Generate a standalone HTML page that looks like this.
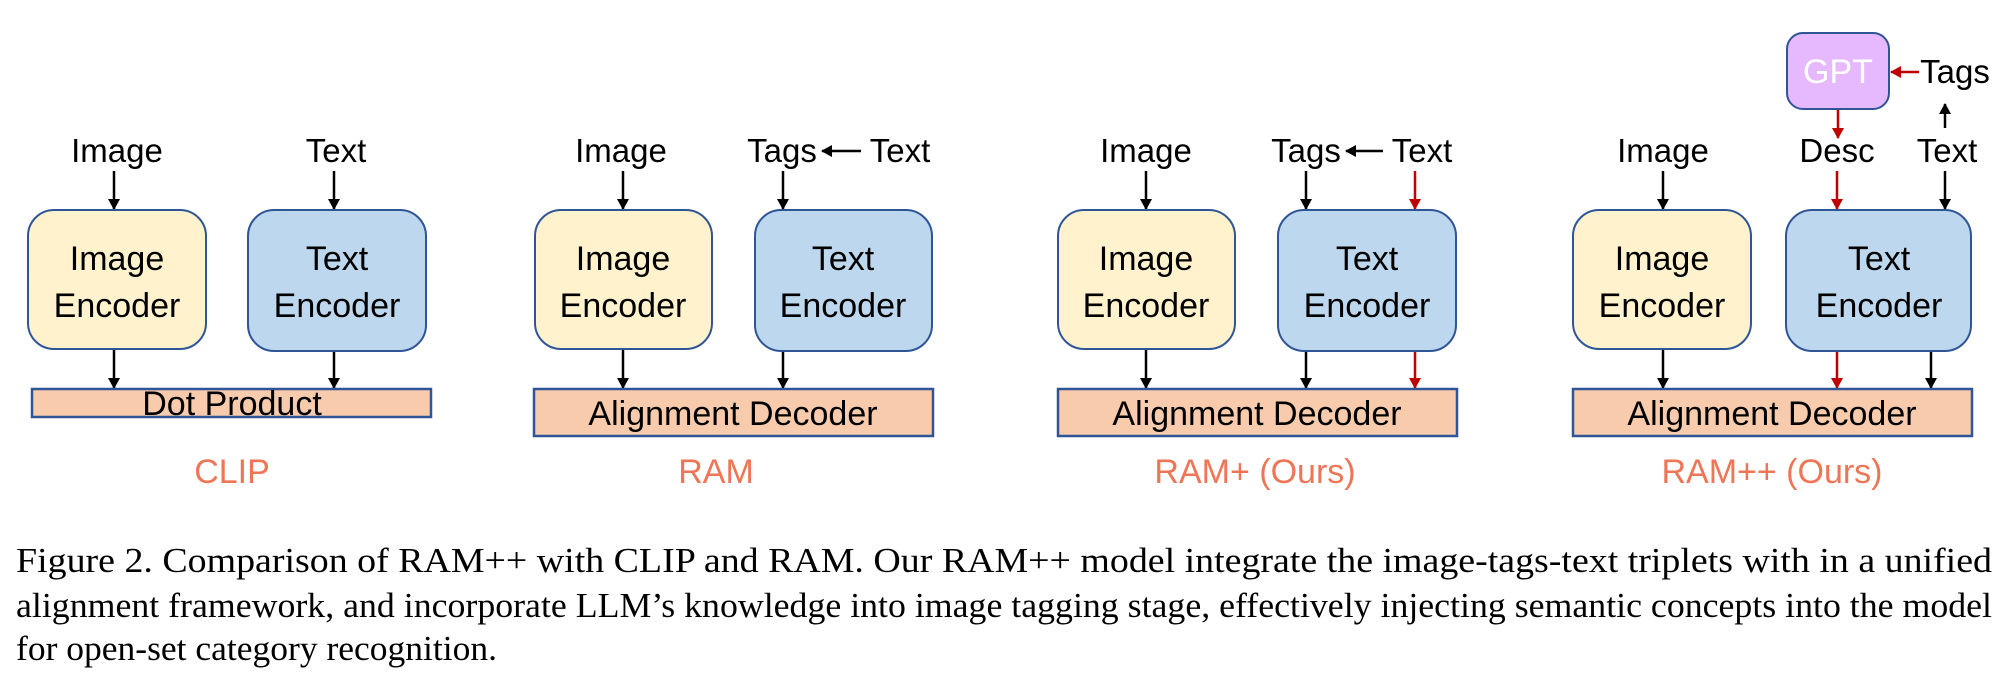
<!DOCTYPE html>
<html><head><meta charset="utf-8"><style>
html,body{margin:0;padding:0;background:#fff;}
svg{display:block;}
.l{font-family:"Liberation Sans",sans-serif;font-size:33px;fill:#000;text-anchor:middle;}
.b{font-family:"Liberation Sans",sans-serif;font-size:34px;fill:#000;text-anchor:middle;}
.o{font-family:"Liberation Sans",sans-serif;font-size:34px;fill:#EE7656;text-anchor:middle;}
.c{font-family:"Liberation Serif",serif;font-size:35px;fill:#000;}
.y{fill:#FFF2CC;stroke:#2F5597;stroke-width:2;}
.u{fill:#BDD7EE;stroke:#2F5597;stroke-width:2;}
.d{fill:#F8CBAD;stroke:#2F5597;stroke-width:2.5;}
.k{stroke:#000;stroke-width:2.5;}
.r{stroke:#C00000;stroke-width:2.5;}
</style></head><body>
<svg width="2013" height="696" viewBox="0 0 2013 696" xmlns="http://www.w3.org/2000/svg">
<defs>
<marker id="ak" markerWidth="12" markerHeight="12" refX="10" refY="6" orient="auto" markerUnits="userSpaceOnUse"><path d="M0,0 L11,6 L0,12 z" fill="#000"/></marker>
<marker id="ar" markerWidth="12" markerHeight="12" refX="10" refY="6" orient="auto" markerUnits="userSpaceOnUse"><path d="M0,0 L11,6 L0,12 z" fill="#C00000"/></marker>
</defs>

<!-- CLIP -->
<text class="l" x="117" y="162">Image</text>
<text class="l" x="336" y="162">Text</text>
<line class="k" x1="114" y1="171" x2="114" y2="209" marker-end="url(#ak)"/>
<line class="k" x1="334" y1="171" x2="334" y2="209" marker-end="url(#ak)"/>
<rect class="y" x="28" y="210" width="178" height="139" rx="26"/>
<rect class="u" x="248" y="210" width="178" height="141" rx="26"/>
<text class="b" x="117" y="270">Image</text><text class="b" x="117" y="317">Encoder</text>
<text class="b" x="337" y="270">Text</text><text class="b" x="337" y="317">Encoder</text>
<line class="k" x1="114" y1="350" x2="114" y2="388" marker-end="url(#ak)"/>
<line class="k" x1="334" y1="352" x2="334" y2="388" marker-end="url(#ak)"/>
<rect class="d" x="32" y="389" width="399" height="28"/>
<text class="b" x="232" y="415">Dot Product</text>
<text class="o" x="232" y="483">CLIP</text>

<!-- RAM -->
<text class="l" x="621" y="162">Image</text>
<text class="l" x="782" y="162">Tags</text>
<text class="l" x="900" y="162">Text</text>
<line class="k" x1="861" y1="151" x2="822" y2="151" marker-end="url(#ak)"/>
<line class="k" x1="623" y1="171" x2="623" y2="209" marker-end="url(#ak)"/>
<line class="k" x1="783" y1="171" x2="783" y2="209" marker-end="url(#ak)"/>
<rect class="y" x="535" y="210" width="177" height="139" rx="26"/>
<rect class="u" x="755" y="210" width="177" height="141" rx="26"/>
<text class="b" x="623" y="270">Image</text><text class="b" x="623" y="317">Encoder</text>
<text class="b" x="843" y="270">Text</text><text class="b" x="843" y="317">Encoder</text>
<line class="k" x1="623" y1="350" x2="623" y2="388" marker-end="url(#ak)"/>
<line class="k" x1="783" y1="352" x2="783" y2="388" marker-end="url(#ak)"/>
<rect class="d" x="534" y="389" width="399" height="47"/>
<text class="b" x="733" y="425">Alignment Decoder</text>
<text class="o" x="716" y="483">RAM</text>

<!-- RAM+ -->
<text class="l" x="1146" y="162">Image</text>
<text class="l" x="1306" y="162">Tags</text>
<text class="l" x="1422" y="162">Text</text>
<line class="k" x1="1383" y1="151" x2="1346" y2="151" marker-end="url(#ak)"/>
<line class="k" x1="1146" y1="171" x2="1146" y2="209" marker-end="url(#ak)"/>
<line class="k" x1="1306" y1="171" x2="1306" y2="209" marker-end="url(#ak)"/>
<line class="r" x1="1415" y1="171" x2="1415" y2="209" marker-end="url(#ar)"/>
<rect class="y" x="1058" y="210" width="177" height="139" rx="26"/>
<rect class="u" x="1278" y="210" width="178" height="141" rx="26"/>
<text class="b" x="1146" y="270">Image</text><text class="b" x="1146" y="317">Encoder</text>
<text class="b" x="1367" y="270">Text</text><text class="b" x="1367" y="317">Encoder</text>
<line class="k" x1="1146" y1="350" x2="1146" y2="388" marker-end="url(#ak)"/>
<line class="k" x1="1306" y1="352" x2="1306" y2="388" marker-end="url(#ak)"/>
<line class="r" x1="1415" y1="352" x2="1415" y2="388" marker-end="url(#ar)"/>
<rect class="d" x="1058" y="389" width="399" height="47"/>
<text class="b" x="1257" y="425">Alignment Decoder</text>
<text class="o" x="1255" y="483">RAM+ (Ours)</text>

<!-- RAM++ -->
<rect x="1787" y="33" width="102" height="76" rx="16" fill="#E6B9FF" stroke="#2F5597" stroke-width="2"/>
<text class="b" x="1838" y="83" style="fill:#fff">GPT</text>
<text class="l" x="1955" y="83">Tags</text>
<line class="r" x1="1919" y1="72" x2="1891" y2="72" marker-end="url(#ar)"/>
<line class="r" x1="1838" y1="110" x2="1838" y2="138" marker-end="url(#ar)"/>
<line class="k" x1="1945" y1="128" x2="1945" y2="104" marker-end="url(#ak)"/>
<text class="l" x="1837" y="162">Desc</text>
<text class="l" x="1663" y="162">Image</text>
<text class="l" x="1947" y="162">Text</text>
<line class="k" x1="1663" y1="171" x2="1663" y2="209" marker-end="url(#ak)"/>
<line class="r" x1="1837" y1="171" x2="1837" y2="209" marker-end="url(#ar)"/>
<line class="k" x1="1945" y1="171" x2="1945" y2="209" marker-end="url(#ak)"/>
<rect class="y" x="1573" y="210" width="178" height="139" rx="26"/>
<rect class="u" x="1786" y="210" width="185" height="141" rx="26"/>
<text class="b" x="1662" y="270">Image</text><text class="b" x="1662" y="317">Encoder</text>
<text class="b" x="1879" y="270">Text</text><text class="b" x="1879" y="317">Encoder</text>
<line class="k" x1="1663" y1="350" x2="1663" y2="388" marker-end="url(#ak)"/>
<line class="r" x1="1837" y1="352" x2="1837" y2="388" marker-end="url(#ar)"/>
<line class="k" x1="1931" y1="352" x2="1931" y2="388" marker-end="url(#ak)"/>
<rect class="d" x="1573" y="389" width="399" height="47"/>
<text class="b" x="1772" y="425">Alignment Decoder</text>
<text class="o" x="1772" y="483">RAM++ (Ours)</text>

<!-- Caption -->
<text class="c" x="16" y="572" textLength="1976" lengthAdjust="spacingAndGlyphs">Figure 2.  Comparison of RAM++ with CLIP and RAM. Our RAM++ model integrate the image-tags-text triplets with in a unified</text>
<text class="c" x="16" y="617" textLength="1976" lengthAdjust="spacingAndGlyphs">alignment framework, and incorporate LLM’s knowledge into image tagging stage, effectively injecting semantic concepts into the model</text>
<text class="c" x="16" y="660" textLength="481" lengthAdjust="spacingAndGlyphs">for open-set category recognition.</text>
</svg>
</body></html>
